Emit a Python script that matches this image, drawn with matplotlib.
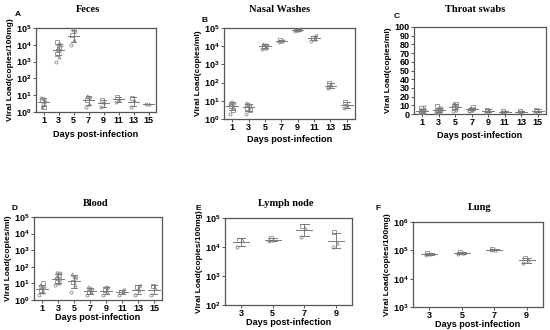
import numpy as np
import matplotlib
matplotlib.use("Agg")
import matplotlib.pyplot as plt

plt.rcParams['font.family'] = ['Liberation Sans', 'DejaVu Sans']
plt.rcParams['mathtext.fontset'] = 'custom'
plt.rcParams['mathtext.rm'] = 'Liberation Sans:bold'
plt.rcParams['mathtext.bf'] = 'Liberation Sans:bold'

# ---------------- data ----------------
days8 = [1, 3, 5, 7, 9, 11, 13, 15]
days4 = [3, 5, 7, 9]

feces = [
    [7, 6, 5, 4, 3, 2, 2, 6],
    [1000, 2000, 3000, 4000, 5000, 6000, 7000, 8000, 10000, 12000, 15000],
    [10000, 20000, 40000, 60000, 80000],
    [2, 3, 5, 7, 8, 9],
    [2, 4, 5],
    [4, 6, 8],
    [2, 5, 7],
    [3, 3],
]
nasal = [
    [2, 4, 5, 7, 9, 8, 3, 6],
    [2, 3, 4, 5, 7, 8, 3, 6],
    [7000, 8000, 9000, 10000, 12000, 14000],
    [18000, 20000, 22000, 20000],
    [70000, 80000, 90000, 80000],
    [20000, 25000, 30000, 35000],
    [50, 70, 90],
    [4, 6, 9],
]
throat = [
    [0.5, 1, 2, 3, 3, 4, 4, 5, 5, 6, 7, 8, 2, 4],
    [1, 2, 3, 3, 4, 5, 5, 6, 7, 8, 9, 4],
    [4, 5, 7, 8, 9, 10, 11, 12],
    [4, 5, 5, 6, 6, 7, 8],
    [2, 4, 5],
    [2, 3, 3],
    [2, 3, 3],
    [2, 4, 5],
]
blood = [
    [2, 3, 4, 5, 6, 8, 10],
    [8, 10, 12, 15, 20, 25, 30, 40, 45],
    [3, 8, 12, 20, 25, 35],
    [2, 3, 3, 4, 5, 6],
    [2, 3, 4, 5, 6],
    [2, 3, 3, 4],
    [2, 4, 6, 7],
    [2, 5, 7],
]
lymph = [
    [10000, 17000, 18000],
    [16000, 18000, 20000],
    [23000, 45000, 55000],
    [10000, 14000, 32000],
]
lung = [
    [70000, 75000, 80000],
    [75000, 80000, 85000],
    [100000, 105000, 110000],
    [35000, 45000, 55000],
]

titles = ["Feces", "Nasal Washes", "Throat swabs", "Blood", "Lymph node", "Lung"]
letters = ["A", "B", "C", "D", "E", "F"]
ylabels = ["Viral Load(copies/100mg)", "Viral Load(copies/ml)", "Viral Load(copies/ml)",
           "Viral Load(copies/ml)", "Viral Load(copies/100mg)", "Viral Load(copies/100mg)"]

W, H = 550, 330
fig = plt.figure(figsize=(W / 100, H / 100), dpi=100)

def ax_px(l, r, t, b):
    return fig.add_axes([l / W, 1 - b / H, (r - l) / W, (b - t) / H])

GRAY = '#8a8a8a'
LINEC = '#7a7a7a'

def draw(ax, days, groups, log, xlim, ylim, yticks, width):
    markers = ['o', '^', 's', 'v']
    for d, g in zip(days, groups):
        g = np.asarray(g, dtype=float)
        n = len(g)
        offs = (((np.arange(n) * 0.618) % 1.0) - 0.5) * width * 0.9
        for i, (o, v) in enumerate(zip(offs, g)):
            ax.plot(d + o, v, linestyle='none', marker=markers[i % 4], ms=2.2,
                    mfc='none', mec=GRAY, mew=0.6, zorder=3)
        if log:
            lg = np.log10(g)
            m = 10 ** lg.mean()
            s = lg.std(ddof=1) if n > 1 else 0
            lo, hi = 10 ** (lg.mean() - s), 10 ** (lg.mean() + s)
        else:
            m = g.mean()
            s = g.std(ddof=1) if n > 1 else 0
            lo, hi = m - s, m + s
        ax.plot([d - width, d + width], [m, m], color=LINEC, lw=0.7, zorder=4)
        ax.plot([d, d], [lo, hi], color=LINEC, lw=0.7, zorder=4)
        for y in (lo, hi):
            ax.plot([d - width * 0.55, d + width * 0.55], [y, y], color=LINEC, lw=0.7, zorder=4)
    if log:
        ax.set_yscale('log')
        ax.yaxis.set_minor_locator(matplotlib.ticker.NullLocator())
        ax.set_yticks(yticks)
        ax.set_yticklabels([r'$\mathregular{10^{%d}}$' % int(round(np.log10(t))) for t in yticks])
    else:
        ax.set_yticks(yticks)
    ax.set_xlim(*xlim)
    ax.set_ylim(*ylim)
    ax.set_xticks(days)
    ax.set_xticklabels([str(d) for d in days])
    for sp in ax.spines.values():
        sp.set_color('#555555')
        sp.set_linewidth(0.9)
    ax.tick_params(axis='both', length=2, width=0.7, color='#555555', labelsize=6.5, pad=1.2)
    for lab in ax.get_xticklabels() + ax.get_yticklabels():
        lab.set_fontweight('bold')

boxes = [
    (36, 156, 28, 112),
    (224, 355, 28, 119),
    (414, 546, 27, 114),
    (34, 162, 217, 300),
    (225, 352, 218, 305),
    (413, 543, 222, 307),
]
axes = [ax_px(*b) for b in boxes]

draw(axes[0], days8, feces, True, (0, 16), (1, 1e5), [1, 10, 100, 1e3, 1e4, 1e5], 0.7)
draw(axes[1], days8, nasal, True, (0, 16), (1, 1e5), [1, 10, 100, 1e3, 1e4, 1e5], 0.7)
draw(axes[2], days8, throat, False, (0, 16), (0, 100), list(range(0, 101, 10)), 0.7)
draw(axes[3], days8, blood, True, (0, 16), (1, 1e5), [1, 10, 100, 1e3, 1e4, 1e5], 0.7)
draw(axes[4], days4, lymph, True, (2, 10), (1e2, 1e5), [1e2, 1e3, 1e4, 1e5], 0.5)
draw(axes[5], days4, lung, True, (2, 10), (1e3, 1e6), [1e3, 1e4, 1e5, 1e6], 0.5)

title_pos = [(88, 10), (280, 10), (475, 10), (96, 204), (286, 204), (480, 207)]
letter_pos = [(18, 15), (205, 20), (397, 17), (14, 208), (198, 208), (378, 208)]
xlabel_pads = [3, 2, 2.5, 0, 0, 0]

for ax, t, yl, (tx, ty), (lx, ly), L, xp in zip(axes, titles, ylabels, title_pos,
                                               letter_pos, letters, xlabel_pads):
    fig.text(tx / W, 1 - ty / H, t, family='Liberation Serif', fontweight='bold',
             fontsize=7.5, ha='center', va='center')
    fig.text(lx / W, 1 - ly / H, L, fontweight='bold', fontsize=6, ha='center', va='center')
    ax.set_ylabel(yl, fontsize=6, fontweight='bold', labelpad=1.5)
    ax.set_xlabel("Days post-infection", fontsize=6.6, fontweight='bold', labelpad=xp)

fig.savefig("out.png", dpi=100)
